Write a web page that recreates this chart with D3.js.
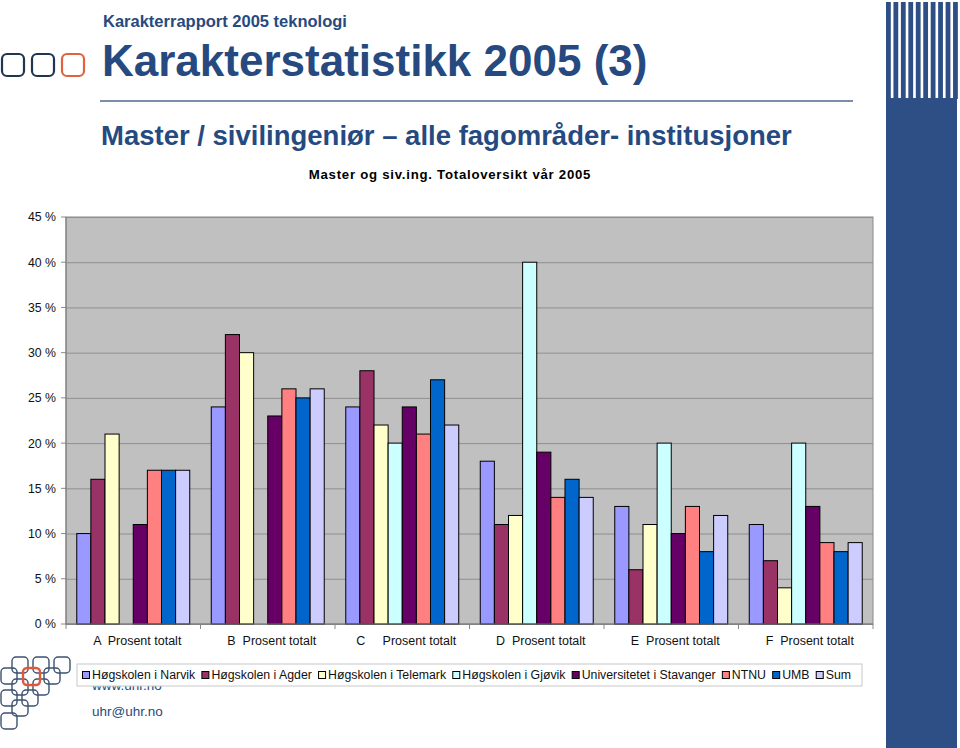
<!DOCTYPE html>
<html>
<head>
<meta charset="utf-8">
<script src="https://cdn.jsdelivr.net/npm/d3@7"></script>
<style>
    body { margin: 0; background: #fff; }
    svg { display: block; font-family: 'Liberation Sans', Arial, sans-serif; }
</style>
</head>
<body>
<div id="chart"></div>
<script>
const categories = [
    'A  Prosent totalt',
    'B  Prosent totalt',
    'C     Prosent totalt',
    'D  Prosent totalt',
    'E  Prosent totalt',
    'F  Prosent totalt',
];
const seriesNames = [
    'Høgskolen i Narvik',
    'Høgskolen i Agder',
    'Høgskolen i Telemark',
    'Høgskolen i Gjøvik',
    'Universitetet i Stavanger',
    'NTNU',
    'UMB',
    'Sum',
];
const seriesColors = ['#9999ff', '#993366', '#ffffcc', '#ccffff', '#660066', '#ff8080', '#0066cc', '#ccccff'];

// prosent per karakter, A..F
const narvik = [10, 24, 24, 18, 13, 11];
const agder = [16, 32, 28, 11, 6, 7];
const telemark = [21, 30, 22, 12, 11, 4];
const gjovik = [null, null, 20, 40, 20, 20];
const stavanger = [11, 23, 24, 19, 10, 13];
const ntnu = [17, 26, 21, 14, 13, 9];
const umb = [17, 25, 27, 16, 8, 8];
const sum = [17, 26, 22, 14, 12, 9];
const seriesValues = [narvik, agder, telemark, gjovik, stavanger, ntnu, umb, sum];

const yTicks = [0, 5, 10, 15, 20, 25, 30, 35, 40, 45];

const blue = '#264a80';
const width = 960;
const height = 748;

const svg = d3
    .select('#chart')
    .append('svg')
    .attr('width', width)
    .attr('height', height);

// --- decoration: top-left boxes, right stripes
const topBoxes = [0, 1, 2];
svg.append('g')
    .selectAll('rect')
    .data(topBoxes)
    .join('rect')
    .attr('x', (d) => 2 + d * 30)
    .attr('y', 54)
    .attr('width', 22)
    .attr('height', 22)
    .attr('rx', 5)
    .attr('fill', 'none')
    .attr('stroke', (d) => (d === 2 ? '#e0623f' : '#1d3654'))
    .attr('stroke-width', 2.2);

const stripeColor = '#2d4f86';
svg.append('g')
    .selectAll('rect')
    .data(d3.range(10))
    .join('rect')
    .attr('x', (d) => 886 + d * 7.45)
    .attr('y', 2)
    .attr('width', 4.8)
    .attr('height', 97)
    .attr('fill', stripeColor);
svg.append('rect')
    .attr('x', 886)
    .attr('y', 98)
    .attr('width', 71)
    .attr('height', height - 98)
    .attr('fill', stripeColor);

// --- titles
svg.append('text')
    .attr('x', 103)
    .attr('y', 27)
    .attr('font-size', 16.5)
    .attr('font-weight', 'bold')
    .attr('fill', blue)
    .text('Karakterrapport 2005 teknologi');
svg.append('text')
    .attr('x', 102)
    .attr('y', 76)
    .attr('font-size', 44)
    .attr('font-weight', 'bold')
    .attr('fill', blue)
    .text('Karakterstatistikk 2005 (3)');
svg.append('line')
    .attr('x1', 100)
    .attr('x2', 853)
    .attr('y1', 101)
    .attr('y2', 101)
    .attr('stroke', '#4f6690')
    .attr('stroke-width', 1.5);
svg.append('text')
    .attr('x', 101)
    .attr('y', 145)
    .attr('font-size', 27.5)
    .attr('font-weight', 'bold')
    .attr('fill', blue)
    .text('Master / sivilingeniør – alle fagområder- institusjoner');
svg.append('text')
    .attr('x', 450)
    .attr('y', 179)
    .attr('text-anchor', 'middle')
    .attr('font-size', 13.2)
    .attr('font-weight', 'bold')
    .attr('letter-spacing', 0.75)
    .text('Master og siv.ing. Totaloversikt vår 2005');

// --- chart
const plotLeft = 66, plotRight = 873, plotTop = 217, plotBottom = 624;

const x = d3
    .scaleBand()
    .domain(categories)
    .range([plotLeft, plotRight])
    .paddingInner(0.16)
    .paddingOuter(0.08);
const xs = d3.scaleBand().domain(seriesNames).range([0, x.bandwidth()]);
const y = d3.scaleLinear().domain([0, 45]).range([plotBottom, plotTop]);

svg.append('rect')
    .attr('x', plotLeft)
    .attr('y', plotTop)
    .attr('width', plotRight - plotLeft)
    .attr('height', plotBottom - plotTop)
    .attr('fill', '#c0c0c0')
    .attr('stroke', '#8a8a8a');

svg.append('g')
    .attr('transform', `translate(${plotLeft},0)`)
    .call(
        d3
            .axisLeft(y)
            .tickValues(yTicks)
            .tickSize(-(plotRight - plotLeft))
            .tickPadding(10)
            .tickFormat((d) => `${d} %`),
    )
    .call((g) => g.select('.domain').remove())
    .call((g) => g.selectAll('.tick line').attr('stroke', '#8f8f8f'))
    .call((g) =>
        g.selectAll('.tick text').attr('font-size', 12.3).attr('fill', '#111'),
    );
// small outside ticks on y axis
svg.append('g')
    .selectAll('line')
    .data(yTicks)
    .join('line')
    .attr('x1', plotLeft - 5)
    .attr('x2', plotLeft)
    .attr('y1', (d) => y(d))
    .attr('y2', (d) => y(d))
    .attr('stroke', '#8a8a8a');
svg.append('line')
    .attr('x1', plotLeft)
    .attr('x2', plotLeft)
    .attr('y1', plotTop)
    .attr('y2', plotBottom)
    .attr('stroke', '#7a7a7a');

const group = svg
    .append('g')
    .selectAll('g')
    .data(categories)
    .join('g')
    .attr('transform', (d) => `translate(${x(d)},0)`);

group
    .selectAll('rect')
    .data((c, i) =>
        seriesNames
            .map((s, j) => ({ s, j, v: seriesValues[j][i] }))
            .filter((d) => d.v != null),
    )
    .join('rect')
    .attr('x', (d) => xs(d.s))
    .attr('y', (d) => y(d.v))
    .attr('width', xs.bandwidth())
    .attr('height', (d) => y(0) - y(d.v))
    .attr('fill', (d) => seriesColors[d.j])
    .attr('stroke', '#000')
    .attr('stroke-width', 1);

// x axis: ticks between categories
const step = x.step();
svg.append('g')
    .selectAll('line')
    .data(d3.range(categories.length + 1))
    .join('line')
    .attr('x1', (d) => plotLeft + d * step)
    .attr('x2', (d) => plotLeft + d * step)
    .attr('y1', plotBottom)
    .attr('y2', plotBottom + 5)
    .attr('stroke', '#8a8a8a');
svg.append('line')
    .attr('x1', plotLeft)
    .attr('x2', plotRight)
    .attr('y1', plotBottom)
    .attr('y2', plotBottom)
    .attr('stroke', '#7a7a7a');

svg.append('g')
    .selectAll('text')
    .data(categories)
    .join('text')
    .attr('x', (d) => x(d) + x.bandwidth() / 2 + 4)
    .attr('y', 645)
    .attr('text-anchor', 'middle')
    .attr('font-size', 12.5)
    .attr('fill', '#111')
    .style('white-space', 'pre')
    .text((d) => d);

// --- footer text (partly behind legend)
svg.append('text')
    .attr('x', 92)
    .attr('y', 690)
    .attr('font-size', 13.5)
    .attr('fill', blue)
    .text('www.uhr.no');
svg.append('text')
    .attr('x', 92)
    .attr('y', 716)
    .attr('font-size', 13.5)
    .attr('fill', blue)
    .text('uhr@uhr.no');

// bottom-left logo
const logoBoxes = [
    [12, 657], [33, 657], [54, 657],
    [1, 668], [44, 668],
    [12, 679], [33, 679],
    [1, 690], [22, 690],
    [12, 700],
    [1, 713],
];
svg.append('g')
    .selectAll('rect')
    .data(logoBoxes)
    .join('rect')
    .attr('x', (d) => d[0])
    .attr('y', (d) => d[1])
    .attr('width', 16)
    .attr('height', 16)
    .attr('rx', 4)
    .attr('fill', 'none')
    .attr('stroke', '#3d5170')
    .attr('stroke-width', 1.4);
svg.append('rect')
    .attr('x', 23)
    .attr('y', 668)
    .attr('width', 17)
    .attr('height', 17)
    .attr('rx', 4)
    .attr('fill', 'none')
    .attr('stroke', '#e0583a')
    .attr('stroke-width', 2.4);

// --- legend
const legend = svg.append('g');
legend
    .append('rect')
    .attr('x', 77)
    .attr('y', 664)
    .attr('width', 785)
    .attr('height', 22)
    .attr('fill', '#fff')
    .attr('stroke', '#c8c8c8');

let lx = 82;
seriesNames.forEach((name, j) => {
    legend
        .append('rect')
        .attr('x', lx + 0.5)
        .attr('y', 671.5)
        .attr('width', 7)
        .attr('height', 7)
        .attr('fill', seriesColors[j])
        .attr('stroke', '#000');
    const t = legend
        .append('text')
        .attr('x', lx + 10)
        .attr('y', 679)
        .attr('font-size', 12.3)
        .attr('fill', '#111')
        .text(name);
    lx += 10 + t.node().getComputedTextLength() + 6.2;
});
</script>
</body>
</html>
